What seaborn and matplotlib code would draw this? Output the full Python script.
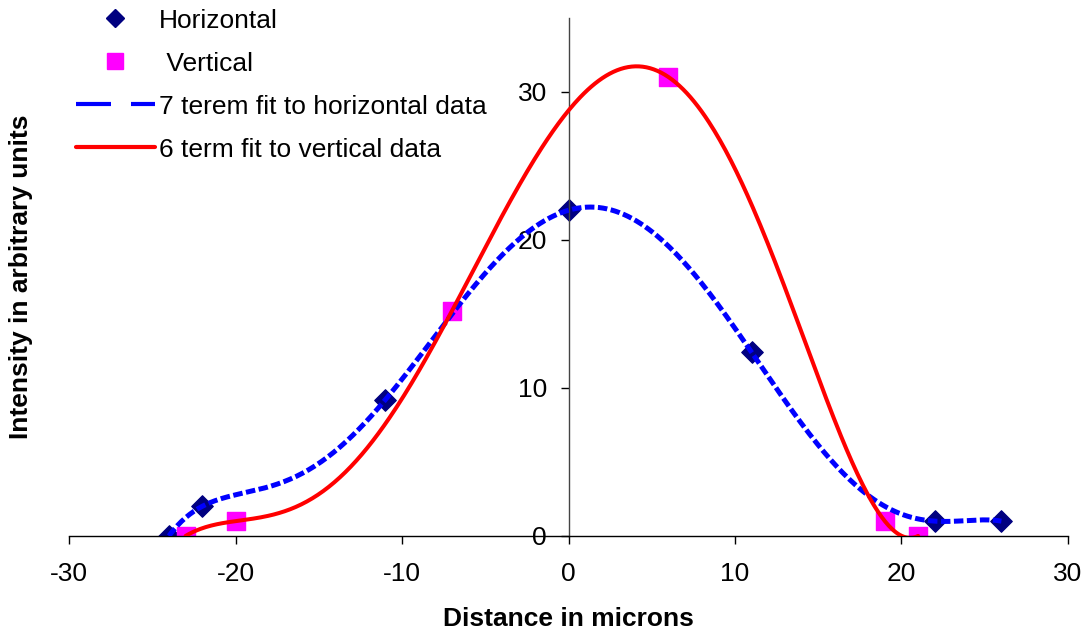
import numpy as np
import pandas as pd
import matplotlib
matplotlib.use("Agg")
import matplotlib.pyplot as plt
import seaborn as sns
from matplotlib.lines import Line2D

# Data
horiz_x = [-24, -22, -11, 0, 11, 22, 26]
horiz_y = [0, 2, 9.2, 22, 12.4, 1, 1]
vert_x = [-23, -20, -7, 6, 19, 21]
vert_y = [0, 1, 15.2, 31, 1, 0]
x_ticks = [-30, -20, -10, 0, 10, 20, 30]
y_ticks = [0, 10, 20, 30]
labels = ["Horizontal", " Vertical", "7 terem fit to horizontal data",
          "6 term fit to vertical data"]

sns.set_theme(style="white")
plt.rcParams['font.family'] = ['Liberation Sans', 'DejaVu Sans']
plt.rcParams['axes.unicode_minus'] = False
for k in ['text.color', 'axes.labelcolor', 'xtick.color', 'ytick.color']:
    plt.rcParams[k] = 'black'

fig = plt.figure(figsize=(10.87, 6.35), dpi=100)
ax = fig.add_axes([0.0635, 0.156, 0.919, 0.816])

# Fits (polynomial through the data)
ph = np.polynomial.Polynomial.fit(horiz_x, horiz_y, 6)
pv = np.polynomial.Polynomial.fit(vert_x, vert_y, 5)
xh = np.linspace(min(horiz_x), max(horiz_x), 400)
xv = np.linspace(min(vert_x), max(vert_x), 400)
fit_h = pd.DataFrame({"x": xh, "y": ph(xh)})
fit_v = pd.DataFrame({"x": xv, "y": pv(xv)})

sns.scatterplot(x=horiz_x, y=horiz_y, marker="D", s=120, color="#000080",
                edgecolor="#000080", ax=ax, zorder=2)
sns.scatterplot(x=vert_x, y=vert_y, marker="s", s=160, color="#FF00FF",
                edgecolor="#FF00FF", ax=ax, zorder=2)
sns.lineplot(data=fit_h, x="x", y="y", color="#0000FF", lw=3.6, ax=ax,
             zorder=3, estimator=None, sort=False)
ax.lines[-1].set_dashes((1.9, 0.7))
sns.lineplot(data=fit_v, x="x", y="y", color="#FF0000", lw=2.9, ax=ax,
             zorder=4, estimator=None, sort=False)

ax.set_xlim(-30, 30)
ax.set_ylim(0, 35)
ax.set_xticks(x_ticks)
ax.set_yticks(y_ticks)
ax.spines['left'].set_position(('data', 0))
ax.spines['bottom'].set_position(('data', 0))
ax.spines['right'].set_visible(False)
ax.spines['top'].set_visible(False)
ax.spines['bottom'].set_color('black')
ax.spines['left'].set_color('#444444')
for s in ['left', 'bottom']:
    ax.spines[s].set_linewidth(1.0)
ax.tick_params(axis='x', direction='out', length=5.5, width=1, colors='black',
               labelsize=19, pad=13, bottom=True)
ax.tick_params(axis='y', direction='out', length=5.5, width=1, colors='black',
               labelsize=19, pad=10, left=True)
ax.grid(False)

ax.set_xlabel("Distance in microns", fontsize=19, fontweight='bold')
ax.set_ylabel("Intensity in arbitrary units", fontsize=19, fontweight='bold')
ax.xaxis.set_label_coords(0.5, -0.138)
ax.yaxis.set_label_coords(-0.036, 0.5)

handles = [
    Line2D([], [], ls='none', marker='D', color='#000080', markersize=9),
    Line2D([], [], ls='none', marker='s', color='#FF00FF', markersize=11),
    Line2D([], [], color='#0000FF', lw=3, dashes=(8.4, 4.8)),
    Line2D([], [], color='#FF0000', lw=3),
]
leg = ax.legend(handles, labels, loc='upper left', bbox_to_anchor=(-0.004, 1.038),
                frameon=False, fontsize=19, handlelength=3.0, handletextpad=0.15,
                labelspacing=0.72, borderaxespad=0)

fig.savefig("out.png", dpi=100)
